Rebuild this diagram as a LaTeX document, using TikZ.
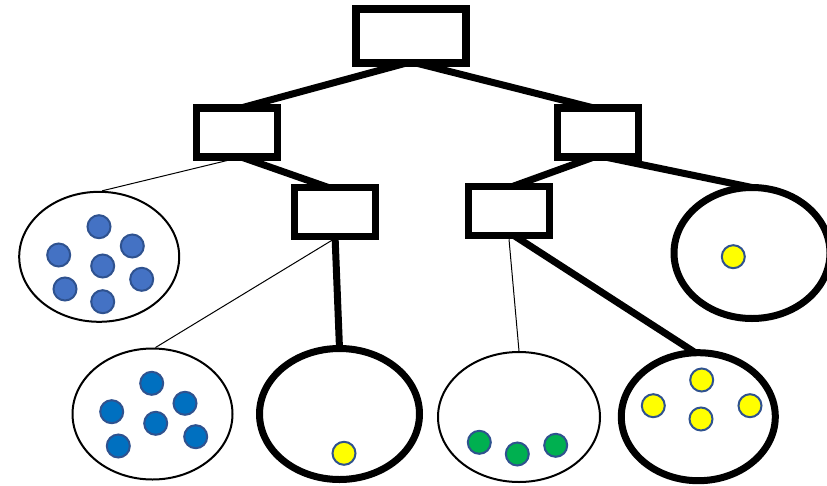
\documentclass[tikz,border=0pt]{standalone}
\usetikzlibrary{shapes.geometric}
\definecolor{dotblueA}{HTML}{4472C4}
\definecolor{dotblueB}{HTML}{0070C0}
\definecolor{dotedge}{HTML}{2F528F}
\definecolor{dotyellow}{HTML}{FFFF00}
\definecolor{dotgreen}{HTML}{00B050}
\tikzset{
  treebox/.style={draw=black, line width=7.5pt, fill=white, inner sep=0pt, minimum width=#1, minimum height=49pt},
  thinell/.style={draw=black, line width=2pt, ellipse, inner sep=0pt},
  thickell/.style={draw=black, line width=7pt, ellipse, inner sep=0pt},
  dot/.style={circle, draw=dotedge, line width=2pt, fill=#1, inner sep=0pt, minimum size=23pt},
  thickline/.style={line width=7pt},
  thinline/.style={line width=1pt}
}
\begin{document}
\begin{tikzpicture}[x=1pt,y=-1pt]
\useasboundingbox[fill=white] (0,0) rectangle (827,485);
% boxes
\node[treebox=110pt, minimum height=54pt] (root) at (411,36) {};
\node[treebox=81pt] (lb) at (237,132.3) {};
\node[treebox=81pt] (rb) at (598,132.3) {};
\node[treebox=81pt] (lb3) at (335,212) {};
\node[treebox=81pt] (rb3) at (509,211) {};
% ellipses
\node[thinell, minimum width=160pt, minimum height=130pt] (e0) at (99.2,256.8) {};
\node[thickell, minimum width=156pt, minimum height=131pt] (eR) at (752,253) {};
\node[thinell, minimum width=160pt, minimum height=131pt] (e1) at (152.5,414) {};
\node[thickell, minimum width=160pt, minimum height=131pt] (e2) at (339.5,414) {};
\node[thinell, minimum width=162pt, minimum height=130pt] (e3) at (519,417) {};
\node[thickell, minimum width=154pt, minimum height=128pt] (e4) at (698.3,416.7) {};
% connectors
\draw[thickline] ([yshift=5pt]root.south) -- ([yshift=-5pt]lb.north);
\draw[thickline] ([yshift=5pt]root.south) -- ([yshift=-5pt]rb.north);
\draw[thinline] ([xshift=-10pt]lb.south) -- ([xshift=3pt]e0.north);
\draw[thickline] ([yshift=5pt]lb.south) -- ([xshift=-3pt,yshift=-5pt]lb3.north);
\draw[thickline] ([yshift=5pt]rb.south) -- ([yshift=-5pt]rb3.north);
\draw[thickline] ([yshift=5pt]rb.south) -- ([yshift=-3.5pt]eR.north);
\draw[thinline] ([xshift=-3pt]lb3.south) -- ([xshift=3pt]e1.north);
\draw[thickline] ([yshift=5pt]lb3.south) -- ([yshift=-3.5pt]e2.north);
\draw[thinline] (rb3.south) -- (e3.north);
\draw[thickline] ([xshift=3pt,yshift=5pt]rb3.south) -- ([xshift=-3pt,yshift=-3.5pt]e4.north);
% redraw boxes on top of connectors
\node[treebox=110pt, minimum height=54pt] at (411,36) {};
\node[treebox=81pt] at (237,132.3) {};
\node[treebox=81pt] at (598,132.3) {};
\node[treebox=81pt] at (335,212) {};
\node[treebox=81pt] at (509,211) {};
% dots: left ellipse
\node[dot=dotblueA] (a1) at (99,226.7) {};
\node[dot=dotblueA] (a2) at (58.7,255) {};
\node[dot=dotblueA] (a3) at (132.3,246) {};
\node[dot=dotblueA] (a4) at (102.7,266) {};
\node[dot=dotblueA] (a5) at (141.7,279.3) {};
\node[dot=dotblueA] (a6) at (65,289) {};
\node[dot=dotblueA] (a7) at (102.7,301.7) {};
% dots: bottom-left ellipse
\node[dot=dotblueB] (b1) at (151.7,383.3) {};
\node[dot=dotblueB] (b2) at (111.7,411.7) {};
\node[dot=dotblueB] (b3) at (185,403.3) {};
\node[dot=dotblueB] (b4) at (155.7,423.3) {};
\node[dot=dotblueB] (b5) at (195.7,436.7) {};
\node[dot=dotblueB] (b6) at (118.3,446) {};
% yellow single dots
\node[dot=dotyellow] (y1) at (344,453.3) {};
\node[dot=dotyellow] (y2) at (733.3,256.7) {};
% green dots
\node[dot=dotgreen] (g1) at (479.3,442.3) {};
\node[dot=dotgreen] (g2) at (517.3,454) {};
\node[dot=dotgreen] (g3) at (555.7,445.3) {};
% yellow dots in bottom-right ellipse
\node[dot=dotyellow] (y3) at (701.7,380) {};
\node[dot=dotyellow] (y4) at (653.3,405.7) {};
\node[dot=dotyellow] (y5) at (750,405.7) {};
\node[dot=dotyellow] (y6) at (701,419) {};
\end{tikzpicture}
\end{document}
